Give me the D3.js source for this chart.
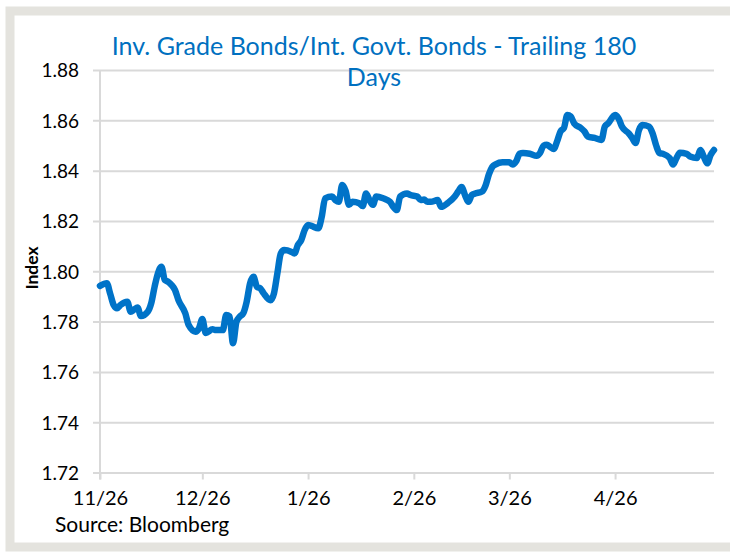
<!DOCTYPE html>
<html>
<head>
<meta charset="utf-8">
<script src="https://cdn.jsdelivr.net/npm/d3@7"></script>
<style>
  html, body { margin: 0; padding: 0; background: #ffffff; }
  svg { display: block; }
  text { font-family: "Lato", "Carlito", "Liberation Sans", sans-serif; }
</style>
</head>
<body>
<svg id="chart" width="730" height="552"></svg>
<script>
// Ratio index, daily closes over the trailing 180 days
const dates = [
  "2013-11-26","2013-11-28","2013-11-29","2013-11-30","2013-12-01","2013-12-02","2013-12-04","2013-12-05",
  "2013-12-06","2013-12-07","2013-12-08","2013-12-10","2013-12-11","2013-12-12","2013-12-13","2013-12-14",
  "2013-12-15","2013-12-16","2013-12-17","2013-12-18","2013-12-19","2013-12-21","2013-12-22","2013-12-24",
  "2013-12-25","2013-12-26","2013-12-27","2013-12-29","2013-12-30","2014-01-01","2014-01-02","2014-01-03",
  "2014-01-04","2014-01-05","2014-01-06","2014-01-07","2014-01-08","2014-01-09","2014-01-10","2014-01-11",
  "2014-01-12","2014-01-13","2014-01-15","2014-01-16","2014-01-17","2014-01-18","2014-01-19","2014-01-21",
  "2014-01-22","2014-01-23","2014-01-24","2014-01-25","2014-01-26","2014-01-27","2014-01-29","2014-01-30",
  "2014-01-31","2014-02-02","2014-02-03","2014-02-04","2014-02-05","2014-02-06","2014-02-07","2014-02-08",
  "2014-02-10","2014-02-11","2014-02-12","2014-02-13","2014-02-14","2014-02-15","2014-02-17","2014-02-19",
  "2014-02-20","2014-02-21","2014-02-22","2014-02-24","2014-02-25","2014-02-27","2014-02-28","2014-03-01",
  "2014-03-02","2014-03-03","2014-03-05","2014-03-06","2014-03-08","2014-03-10","2014-03-11","2014-03-12",
  "2014-03-13","2014-03-14","2014-03-15","2014-03-16","2014-03-18","2014-03-19","2014-03-20","2014-03-21",
  "2014-03-22","2014-03-24","2014-03-26","2014-03-27","2014-03-28","2014-03-29","2014-03-30","2014-04-01",
  "2014-04-03","2014-04-04","2014-04-05","2014-04-06","2014-04-07","2014-04-08","2014-04-09","2014-04-10",
  "2014-04-11","2014-04-12","2014-04-13","2014-04-14","2014-04-16","2014-04-17","2014-04-18","2014-04-20",
  "2014-04-22","2014-04-23","2014-04-24","2014-04-26","2014-04-27","2014-04-28","2014-04-30","2014-05-01",
  "2014-05-02","2014-05-03","2014-05-04","2014-05-06","2014-05-07","2014-05-08","2014-05-09","2014-05-10",
  "2014-05-12","2014-05-13","2014-05-14","2014-05-15","2014-05-17","2014-05-18","2014-05-20","2014-05-21",
  "2014-05-22","2014-05-23","2014-05-24","2014-05-25"
];
const ratio = [
  1.7942,1.7952,1.7910,1.7866,1.7853,1.7866,1.7879,1.7839,
  1.7848,1.7856,1.7822,1.7839,1.7872,1.7938,1.7992,1.8018,
  1.7965,1.7958,1.7945,1.7925,1.7885,1.7833,1.7786,1.7760,
  1.7773,1.7810,1.7755,1.7769,1.7766,1.7766,1.7826,1.7820,
  1.7714,1.7799,1.7820,1.7833,1.7879,1.7952,1.7978,1.7938,
  1.7932,1.7912,1.7885,1.7912,1.7992,1.8071,1.8084,1.8078,
  1.8071,1.8104,1.8124,1.8164,1.8184,1.8180,1.8171,1.8217,
  1.8290,1.8297,1.8283,1.8276,1.8343,1.8320,1.8264,1.8276,
  1.8270,1.8259,1.8309,1.8283,1.8264,1.8297,1.8290,1.8276,
  1.8256,1.8243,1.8297,1.8309,1.8303,1.8297,1.8283,1.8285,
  1.8276,1.8276,1.8283,1.8256,1.8272,1.8297,1.8317,1.8335,
  1.8303,1.8276,1.8303,1.8309,1.8317,1.8340,1.8385,1.8415,
  1.8425,1.8433,1.8433,1.8424,1.8437,1.8467,1.8470,1.8467,
  1.8459,1.8470,1.8499,1.8503,1.8494,1.8486,1.8516,1.8556,
  1.8569,1.8621,1.8615,1.8588,1.8569,1.8556,1.8536,1.8530,
  1.8522,1.8575,1.8588,1.8621,1.8608,1.8575,1.8548,1.8530,
  1.8510,1.8561,1.8581,1.8575,1.8548,1.8502,1.8470,1.8467,
  1.8450,1.8424,1.8450,1.8471,1.8467,1.8456,1.8450,1.8482,
  1.8456,1.8429,1.8462,1.8482
];
const yTicks = [1.72, 1.74, 1.76, 1.78, 1.80, 1.82, 1.84, 1.86, 1.88];
const xTickDates = ["2013-11-26","2013-12-26","2014-01-26","2014-02-26","2014-03-26","2014-04-26"];
const xTickLabels = ["11/26","12/26","1/26","2/26","3/26","4/26"];
const titleLines = ["Inv. Grade Bonds/Int. Govt. Bonds - Trailing 180", "Days"];
const yAxisTitle = "Index";
const sourceNote = "Source: Bloomberg";
const domainStart = "2013-11-26", domainEnd = "2014-05-25";

const parse = d3.utcParse("%Y-%m-%d");
const series = dates.map((d, i) => ({ date: parse(d), value: ratio[i] }));

const svg = d3.select("#chart");
const W = 730, H = 552;
const plot = { left: 100, right: 714, top: 70, bottom: 472.5 };

// frame around the chart
svg.append("rect").attr("x", 0).attr("y", 0).attr("width", W).attr("height", H).attr("fill", "#ffffff");
svg.append("rect")
  .attr("x", 10).attr("y", 11).attr("width", W).attr("height", H - 16)
  .attr("fill", "none").attr("stroke", "#e4e3de").attr("stroke-width", 9);

const x = d3.scaleUtc().domain([parse(domainStart), parse(domainEnd)]).range([plot.left, plot.right]);
const y = d3.scaleLinear().domain([1.72, 1.88]).range([plot.bottom, plot.top]);

const grid = "#d9d9d9";

// horizontal gridlines with short left ticks
const yAxis = d3.axisLeft(y).tickValues(yTicks).tickFormat(d3.format(".2f"))
  .tickSize(-(plot.right - plot.left)).tickPadding(21).tickSizeOuter(0);
const gy = svg.append("g").attr("transform", `translate(${plot.left},0)`).call(yAxis);
gy.select(".domain").remove();
gy.selectAll(".tick line").attr("stroke", grid).attr("stroke-width", 2).attr("x1", -7);
gy.selectAll(".tick text").attr("fill", "#000").attr("font-size", 19).attr("dy", "0.36em");

// left axis line
svg.append("line").attr("x1", plot.left).attr("x2", plot.left)
  .attr("y1", plot.top).attr("y2", plot.bottom + 7)
  .attr("stroke", grid).attr("stroke-width", 2);

// bottom axis with month ticks
const xAxis = d3.axisBottom(x).tickValues(xTickDates.map(parse))
  .tickFormat((d, i) => xTickLabels[i]).tickSize(7).tickPadding(11).tickSizeOuter(0);
const gx = svg.append("g").attr("transform", `translate(0,${plot.bottom})`).call(xAxis);
gx.select(".domain").remove();
gx.selectAll(".tick line").attr("stroke", grid).attr("stroke-width", 2);
gx.selectAll(".tick text").attr("fill", "#000").attr("font-size", 20);

// the ratio line
const line = d3.line().x(d => x(d.date)).y(d => y(d.value)).curve(d3.curveMonotoneX);
svg.append("path").datum(series)
  .attr("d", line).attr("fill", "none")
  .attr("stroke", "#0073c8").attr("stroke-width", 6.5)
  .attr("stroke-linejoin", "round").attr("stroke-linecap", "round");

// title
const title = svg.append("text").attr("text-anchor", "middle").attr("fill", "#0070c0").attr("font-size", 25);
title.selectAll("tspan").data(titleLines).join("tspan")
  .attr("x", 374).attr("y", (d, i) => 55 + i * 31).text(d => d);

// y axis title
svg.append("text")
  .attr("transform", "translate(38,268) rotate(-90)")
  .attr("text-anchor", "middle").attr("font-weight", "bold").attr("font-size", 17.5)
  .attr("fill", "#000").text(yAxisTitle);

// source note
svg.append("text").attr("x", 55).attr("y", 532).attr("font-size", 21).attr("fill", "#000").text(sourceNote);
</script>
</body>
</html>
